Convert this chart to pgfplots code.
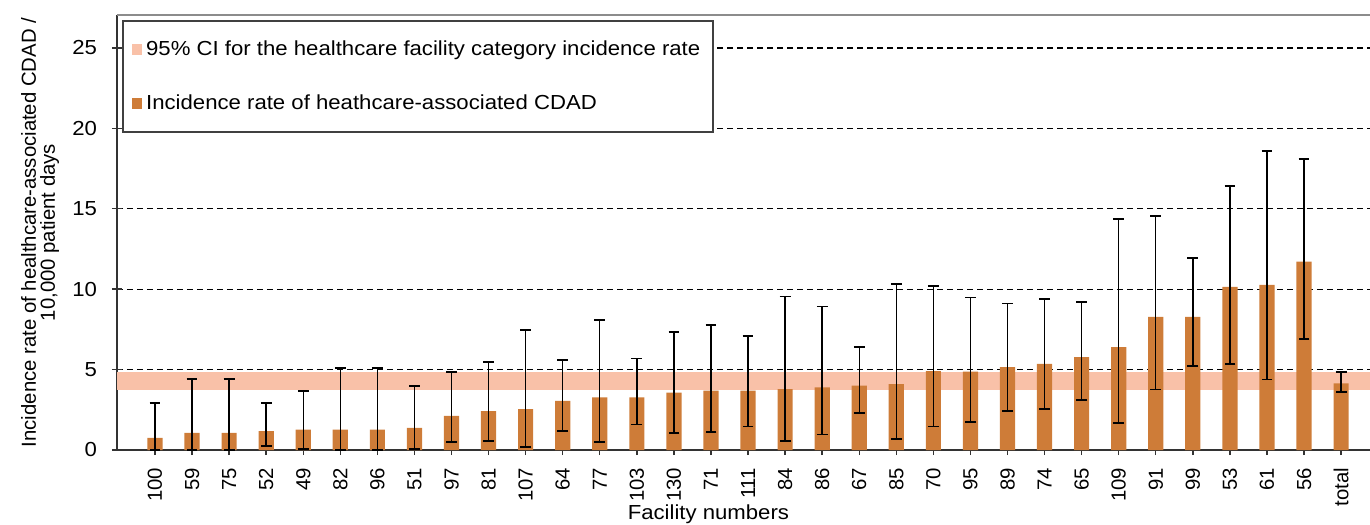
\documentclass[border=0pt]{standalone}
\usepackage{fontspec}
\setmainfont{Liberation Sans}
\newfontfamily\widefont{Liberation Sans}[FakeStretch=1.09]
\usepackage{pgfplots}
\pgfplotsset{compat=1.18}
\usepackage{pgfplotstable}
\definecolor{barc}{RGB}{206,124,56}
\definecolor{bandc}{RGB}{249,193,168}
\pgfplotstableread{
x val lo hi
0 0.75 0.02 2.92
1 1.06 0.02 4.42
2 1.06 0.02 4.42
3 1.17 0.23 2.92
4 1.27 0.06 3.67
5 1.27 0.02 5.12
6 1.27 0.02 5.12
7 1.37 0.06 3.98
8 2.12 0.48 4.85
9 2.42 0.58 5.48
10 2.54 0.21 7.46
11 3.06 1.17 5.58
12 3.27 0.48 8.08
13 3.27 1.58 5.69
14 3.56 1.04 7.35
15 3.69 1.10 7.77
16 3.69 1.46 7.10
17 3.79 0.56 9.54
18 3.90 0.96 8.92
19 4.00 2.29 6.40
20 4.10 0.69 10.31
21 4.90 1.46 10.21
22 4.88 1.76 9.48
23 5.15 2.41 9.11
24 5.35 2.55 9.38
25 5.77 3.13 9.21
26 6.39 1.68 14.36
27 8.28 3.76 14.54
28 8.28 5.21 11.93
29 10.15 5.33 16.41
30 10.27 4.38 18.61
31 11.72 6.91 18.11
32 4.15 3.63 4.85
}\datatable
\pgfplotstablecreatecol[expr={\thisrow{val}-\thisrow{lo}}]{em}{\datatable}
\pgfplotstablecreatecol[expr={\thisrow{hi}-\thisrow{val}}]{ep}{\datatable}
\begin{document}
\begin{tikzpicture}
\begin{axis}[
  scale only axis,
  width=626.5bp, height=217.5bp,
  xmin=-1.025, xmax=32.78,
  ymin=0, ymax=27.05,
  axis x line*=bottom, axis y line*=left,
  axis line style={black!80, line width=0.8pt},
  xtick={0,...,32},
  xticklabels={100,59,75,52,49,82,96,51,97,81,107,64,77,103,130,71,111,84,86,67,85,70,95,89,74,65,109,91,99,53,61,56,total},
  x tick label style={rotate=90, anchor=east, font=\fontsize{10.2}{10}\selectfont, xshift=-3bp},
  ytick={0,5,...,25},
  y tick label style={font=\widefont\fontsize{10.2}{10}\selectfont, xshift=-4bp},
  /pgf/number format/assume math mode=true,
  tick style={black!80, line width=0.7pt},
  major tick length=5bp,
  tick align=center,
  ymajorgrids,
  grid style={black, dashed, dash pattern=on 3bp off 2bp, line width=0.6pt},
  xlabel={Facility numbers},
  xlabel style={at={(axis description cs:0.472,-0.147)}, anchor=center, font=\widefont\fontsize{10.2}{10}\selectfont},
  ylabel={Incidence rate of healthcare-associated CDAD /\\10,000 patient days},
  ylabel style={at={(axis description cs:-0.0614,0.5)}, anchor=center, align=center, font=\fontsize{10.2}{9.5}\selectfont},
  legend style={at={(axis description cs:0,1)}, xshift=2.5bp, yshift=-2.5bp, anchor=north west, draw=black!75, line width=0.8pt, font=\widefont\fontsize{10.2}{10}\selectfont, row sep=14bp, inner xsep=4.5bp, inner ysep=8bp, cells={anchor=west}},
  legend cell align=left,
  clip=false,
]
\addlegendimage{legend image code/.code={\fill[bandc] (0bp,-2.2bp) rectangle (4.4bp,2.2bp);}}
\addlegendentry{95\% CI for the healthcare facility category incidence rate}
\addlegendimage{legend image code/.code={\fill[barc] (0bp,-2.2bp) rectangle (4.4bp,2.2bp);}}
\addlegendentry{Incidence rate of heathcare-associated CDAD}
\addplot[fill=bandc, draw=none, forget plot] coordinates {(-1.025,3.73) (32.78,3.73) (32.78,4.87) (-1.025,4.87)} -- cycle;
\addplot[ybar, bar width=0.41, fill=barc, draw=none, forget plot,
  error bars/.cd, y dir=both, y explicit,
  error bar style={black, line width=0.7pt},
  error mark options={rotate=90, mark size=2.7bp, line width=0.9pt, black}]
  table[x=x, y=val, y error plus=ep, y error minus=em] {\datatable};
\draw[black!45, line width=0.8pt] (rel axis cs:0,1) -- (rel axis cs:1,1);
\coordinate (ll) at (rel axis cs:0,0);
\coordinate (ur) at (rel axis cs:1,1);
\end{axis}
\pgfresetboundingbox
\path ([xshift=-58.5bp,yshift=-37.5bp]ll) rectangle ([yshift=7.5bp]ur);
\end{tikzpicture}
\end{document}
